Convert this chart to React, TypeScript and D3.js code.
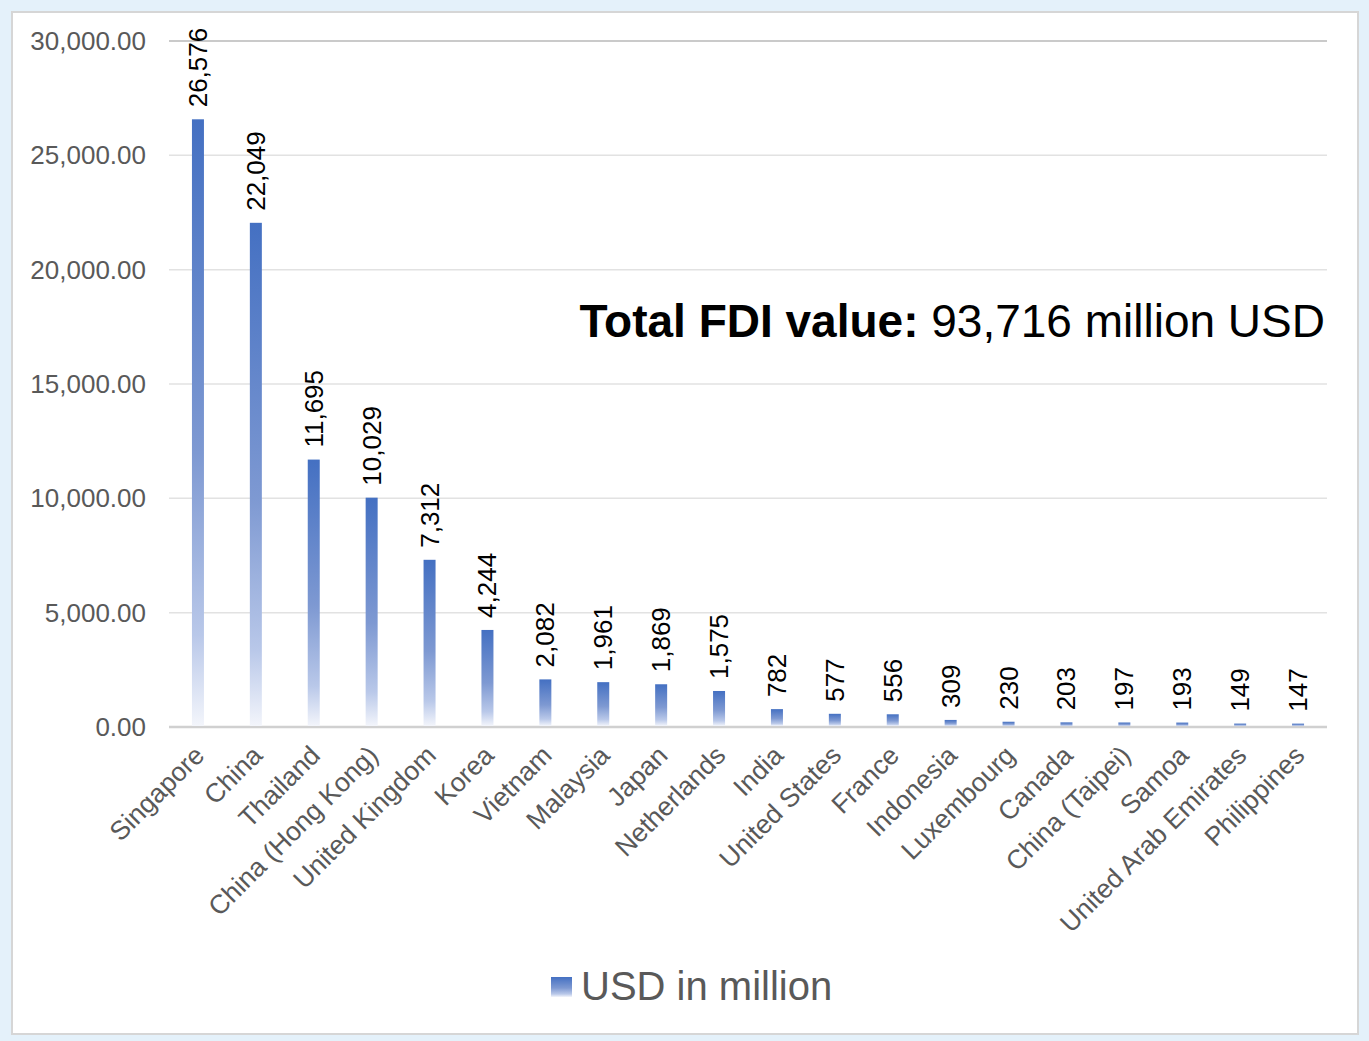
import React from "react";
import * as d3 from "d3";

const categories = [
  "Singapore", "China", "Thailand", "China (Hong Kong)", "United Kingdom",
  "Korea", "Vietnam", "Malaysia", "Japan", "Netherlands", "India",
  "United States", "France", "Indonesia", "Luxembourg", "Canada",
  "China (Taipei)", "Samoa", "United Arab Emirates", "Philippines",
];
const values = [
  26576, 22049, 11695, 10029, 7312, 4244, 2082, 1961, 1869, 1575, 782,
  577, 556, 309, 230, 203, 197, 193, 149, 147,
];
const yTicks = [0, 5000, 10000, 15000, 20000, 25000, 30000];
const seriesName = "USD in million";
const totalLabelBold = "Total FDI value:";
const totalLabelRest = " 93,716 million USD";

const W = 1369;
const H = 1041;
const FONT = "'Liberation Sans', Arial, Helvetica, sans-serif";

export default function App() {
  const x = d3.scaleBand<string>().domain(categories).range([169, 1327]).paddingInner(0).paddingOuter(0);
  const y = d3.scaleLinear().domain([0, 30000]).range([727, 41]);
  const barW = 12;
  const fmtTick = d3.format(",.2f");
  const fmtVal = d3.format(",");

  return (
    <svg width={W} height={H} style={{ position: "absolute", left: 0, top: 0 }} fontFamily={FONT}>
      <defs>
        <linearGradient id="barGrad" x1="0" y1="0" x2="0" y2="1">
          <stop offset="0" stopColor="#4470c2" />
          <stop offset="0.55" stopColor="#7e99d2" />
          <stop offset="0.85" stopColor="#b9c8e9" />
          <stop offset="1" stopColor="#f3f5fb" />
        </linearGradient>
      </defs>
      <rect x={0} y={0} width={W} height={H} fill="#e4f1fa" />
      <rect x={12} y={12} width={1346} height={1022} fill="#ffffff" stroke="#d6d6d6" strokeWidth={2} />

      {yTicks.map((t) => (
        <g key={t}>
          <line
            x1={169}
            x2={1327}
            y1={y(t)}
            y2={y(t)}
            stroke={t === 0 ? "#d0d0d0" : t === 30000 ? "#b8b8b8" : "#e2e2e2"}
            strokeWidth={t === 0 ? 2.5 : 1.5}
          />
          <text x={146} y={y(t)} dy="0.35em" textAnchor="end" fontSize={26} fill="#595959">
            {fmtTick(t)}
          </text>
        </g>
      ))}

      {categories.map((c, i) => {
        const cx = (x(c) as number) + x.bandwidth() / 2;
        const top = y(values[i]);
        return (
          <g key={c}>
            <rect x={cx - barW / 2} y={top} width={barW} height={y(0) - top - 1} fill="url(#barGrad)" />
            <text
              transform={`translate(${cx + 9},${top - 12}) rotate(-90)`}
              fontSize={26}
              fill="#000000"
            >
              {fmtVal(values[i])}
            </text>
            <text
              transform={`translate(${cx + 8},${757}) rotate(-45)`}
              textAnchor="end"
              fontSize={26.5}
              fill="#595959"
            >
              {c}
            </text>
          </g>
        );
      })}

      <text x={1325} y={337} textAnchor="end" fontSize={46} fill="#000000">
        <tspan fontWeight="bold">{totalLabelBold}</tspan>
        <tspan>{totalLabelRest}</tspan>
      </text>

      <rect x={551} y={977} width={21} height={20} fill="url(#barGrad)" />
      <text x={581} y={1000} fontSize={40} fill="#595959">
        {seriesName}
      </text>
    </svg>
  );
}
